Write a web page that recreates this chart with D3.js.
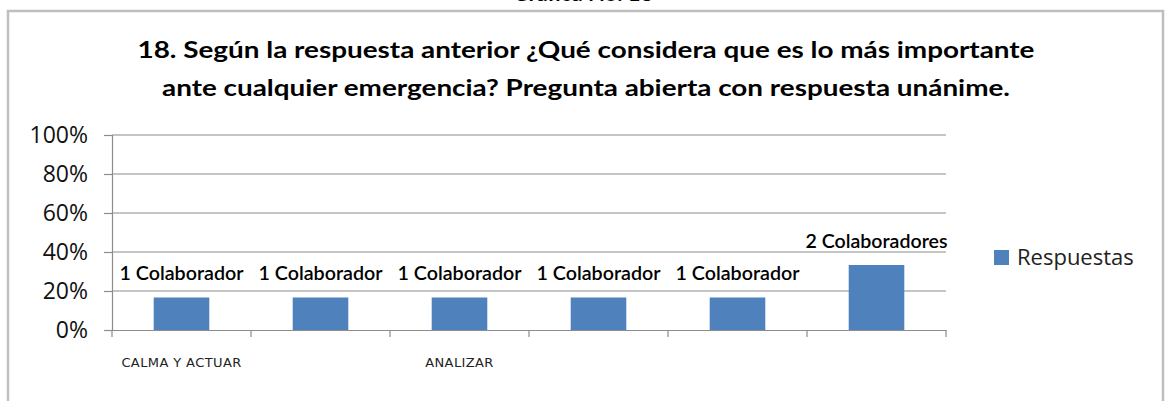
<!DOCTYPE html>
<html>
<head>
<meta charset="utf-8">
<script src="https://cdn.jsdelivr.net/npm/d3@7"></script>
<style>
  body { margin: 0; background: #fff; }
  svg { display: block; }
</style>
</head>
<body>
<div id="chart"></div>
<script>
// chart data
var categories = ["CALMA Y ACTUAR", "", "ANALIZAR", "", "", ""];
var respuestas = [0.1667, 0.1667, 0.1667, 0.1667, 0.1667, 0.3333];
var barLabels = ["1 Colaborador", "1 Colaborador", "1 Colaborador", "1 Colaborador", "1 Colaborador", "2 Colaboradores"];
var yTicks = [0, 0.2, 0.4, 0.6, 0.8, 1];
var seriesName = "Respuestas";
var titleLines = ["18.  Según la respuesta anterior ¿Qué considera que es lo más importante",
                  "ante cualquier emergencia? Pregunta abierta con respuesta unánime."];

var W = 1165, H = 401;
var svg = d3.select("#chart").append("svg")
    .attr("width", W).attr("height", H);

// heading cut off at top of page
svg.append("text").text("Gráfica No. 18")
    .attr("x", 583).attr("y", 1)
    .attr("text-anchor", "middle")
    .attr("font-family", "Lato, sans-serif").attr("font-weight", "bold")
    .attr("font-size", 22).attr("fill", "#000");

// chart frame
svg.append("path")
    .attr("d", "M8,401 V11 H1163 V401")
    .attr("fill", "none").attr("stroke", "#bfbfbf").attr("stroke-width", 2.5);

// title
svg.selectAll(".title").data(titleLines).enter().append("text")
    .attr("class", "title")
    .attr("x", 586).attr("y", function(d, i) { return 58 + i * 38; })
    .attr("text-anchor", "middle")
    .attr("font-family", "Lato, sans-serif").attr("font-weight", "bold")
    .attr("font-size", 22).attr("fill", "#000")
    .attr("textLength", function(d, i) { return i == 0 ? 897 : 848; })
    .attr("lengthAdjust", "spacingAndGlyphs")
    .text(function(d) { return d; });

var pLeft = 112, pRight = 946, pTop = 135, pBottom = 330;

var xScale = d3.scaleBand()
    .domain(d3.range(categories.length))
    .range([pLeft, pRight])
    .paddingInner(0.6).paddingOuter(0.3);

var yScale = d3.scaleLinear()
    .domain([0, 1])
    .range([pBottom, pTop]);

// gridlines
svg.append("g")
    .selectAll("line").data(yTicks.slice(1)).enter().append("line")
    .attr("x1", pLeft).attr("x2", pRight)
    .attr("y1", function(d) { return yScale(d); })
    .attr("y2", function(d) { return yScale(d); })
    .attr("stroke", "#8c8c8c").attr("stroke-width", 1.2);

// y axis
var yAxis = svg.append("g")
    .attr("transform", "translate(" + pLeft + ",0)")
    .call(d3.axisLeft(yScale).tickValues(yTicks).tickFormat(d3.format(".0%")).tickSize(8).tickPadding(16));
yAxis.selectAll("path, line").attr("stroke", "#8c8c8c").attr("stroke-width", 1.2);
yAxis.selectAll("text")
    .attr("font-family", "'Open Sans', sans-serif").attr("font-size", 23).attr("fill", "#111");

// bars
svg.selectAll(".bar").data(respuestas).enter().append("rect")
    .attr("class", "bar")
    .attr("x", function(d, i) { return xScale(i); })
    .attr("width", xScale.bandwidth())
    .attr("y", function(d) { return yScale(d); })
    .attr("height", function(d) { return pBottom - yScale(d); })
    .attr("fill", "#4f81bd");

// x axis with category ticks
var step = (pRight - pLeft) / categories.length;
var xAxis = svg.append("g")
    .attr("transform", "translate(0," + pBottom + ")")
    .call(d3.axisBottom(xScale).tickSize(0).tickFormat(function(i) { return categories[i]; }).tickPadding(28));
xAxis.select("path").attr("stroke", "#8c8c8c").attr("stroke-width", 1.2);
xAxis.selectAll("text")
    .attr("font-family", "'DejaVu Sans', sans-serif").attr("font-size", 13)
    .attr("letter-spacing", 0.4).attr("fill", "#222");
xAxis.selectAll(".sep").data(d3.range(categories.length + 1)).enter().append("line")
    .attr("x1", function(d) { return pLeft + d * step; })
    .attr("x2", function(d) { return pLeft + d * step; })
    .attr("y1", 0).attr("y2", 7)
    .attr("stroke", "#8c8c8c").attr("stroke-width", 1.2);

// data labels
svg.selectAll(".lbl").data(respuestas).enter().append("text")
    .attr("class", "lbl")
    .attr("x", function(d, i) { return xScale(i) + xScale.bandwidth() / 2; })
    .attr("y", function(d) { return yScale(d) - 17; })
    .attr("text-anchor", "middle")
    .attr("font-family", "Lato, sans-serif").attr("font-weight", 600).attr("font-size", 19)
    .attr("fill", "#000")
    .attr("textLength", function(d, i) { return barLabels[i].length > 13 ? 142 : 124; })
    .attr("lengthAdjust", "spacingAndGlyphs")
    .text(function(d, i) { return barLabels[i]; });

// legend
var legend = svg.append("g").attr("transform", "translate(994,250)");
legend.append("rect").attr("width", 15).attr("height", 15).attr("fill", "#4f81bd");
legend.append("text").text(seriesName)
    .attr("x", 23).attr("y", 15)
    .attr("font-family", "'Open Sans', sans-serif").attr("font-size", 22).attr("fill", "#222");
</script>
</body>
</html>
